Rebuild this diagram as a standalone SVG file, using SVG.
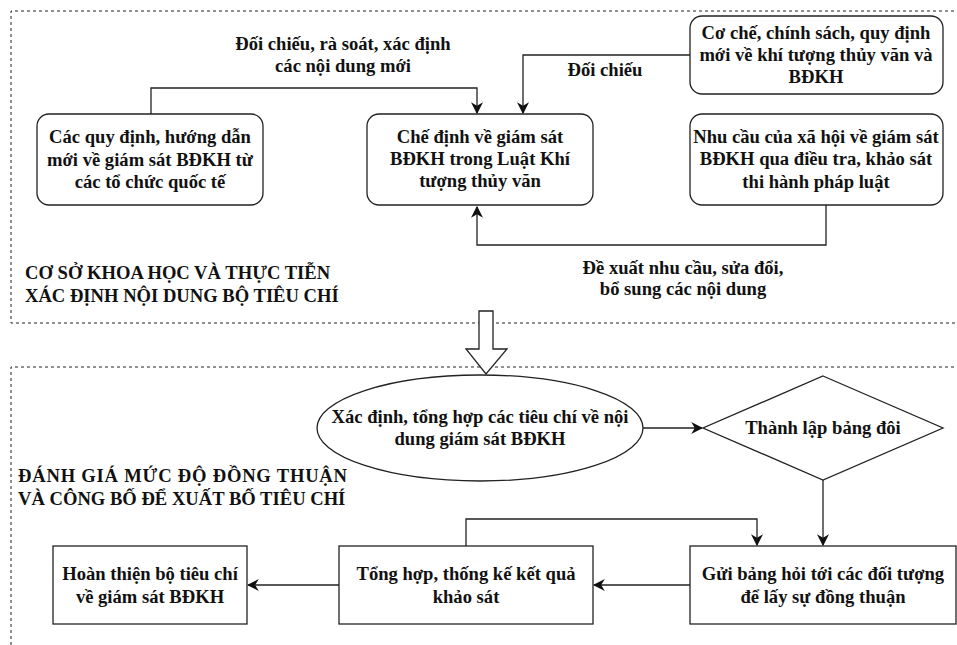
<svg xmlns="http://www.w3.org/2000/svg" width="957" height="645" viewBox="0 0 957 645">
<style>
text{font-family:"Liberation Serif","Times New Roman",serif;font-weight:bold;font-size:18.6px;fill:#111;}
.c{text-anchor:middle;}
.box{fill:#fff;stroke:#222;stroke-width:1.3;}
.edge{fill:none;stroke:#222;stroke-width:1.3;}
.dash{fill:none;stroke:#222;stroke-width:1;stroke-dasharray:3 3;}
</style>
<defs>
<marker id="arr" markerUnits="userSpaceOnUse" markerWidth="12" markerHeight="12" viewBox="0 0 10 10" refX="9" refY="5" orient="auto">
<path d="M0,0 L10,5 L0,10 L3,5 z" fill="#111"/>
</marker>
</defs>
<rect width="957" height="645" fill="#fff"/>
<g id="frames">
<path class="dash" d="M960,11 H11 V323 H960"/>
<path class="dash" d="M960,367 H11 V650"/>
<text x="25" y="279">CƠ SỞ KHOA HỌC VÀ THỰC TIỄN</text>
<text x="25" y="302">XÁC ĐỊNH NỘI DUNG BỘ TIÊU CHÍ</text>
<text x="18" y="482" textLength="329" lengthAdjust="spacing">ĐÁNH GIÁ MỨC ĐỘ ĐỒNG THUẬN</text>
<text x="18" y="505">VÀ CÔNG BỐ ĐỂ XUẤT BỐ TIÊU CHÍ</text>
</g>
<g id="connectors">
<path class="edge" d="M151,114 V88 H477 V113" marker-end="url(#arr)"/>
<path class="edge" d="M690,55 H523 V113" marker-end="url(#arr)"/>
<path class="edge" d="M826,205 V245 H477 V207" marker-end="url(#arr)"/>
<path class="edge" d="M643,428 H702" marker-end="url(#arr)"/>
<path class="edge" d="M823,480 V545" marker-end="url(#arr)"/>
<path class="edge" d="M466,546 V519 H757 V545" marker-end="url(#arr)"/>
<path class="edge" d="M690,585 H594" marker-end="url(#arr)"/>
<path class="edge" d="M339,585 H248" marker-end="url(#arr)"/>
<polygon points="479,311 493,311 493,349 507,349 486,374 466,349 479,349" fill="#fff" stroke="#222" stroke-width="1.3"/>
<text class="c" x="343" y="50">Đối chiếu, rà soát, xác định</text>
<text class="c" x="343" y="72">các nội dung mới</text>
<text class="c" x="605" y="76">Đối chiếu</text>
<text class="c" x="683" y="274">Đề xuất nhu cầu, sửa đổi,</text>
<text class="c" x="683" y="295">bổ sung các nội dung</text>
</g>
<g id="n-quydinh">
<rect class="box" x="37" y="114" width="226" height="91" rx="12"/>
<text class="c" x="150" y="143">Các quy định, hướng dẫn</text>
<text class="c" x="150" y="166">mới về giám sát BĐKH từ</text>
<text class="c" x="150" y="188">các tổ chức quốc tế</text>
</g>
<g id="n-chedinh">
<rect class="box" x="367" y="114" width="226" height="91" rx="12"/>
<text class="c" x="480" y="143">Chế định về giám sát</text>
<text class="c" x="480" y="165">BĐKH trong Luật Khí</text>
<text class="c" x="480" y="187">tượng thủy văn</text>
</g>
<g id="n-coche">
<rect class="box" x="690" y="16" width="253" height="78" rx="12"/>
<text class="c" x="816" y="39">Cơ chế, chính sách, quy định</text>
<text class="c" x="816" y="61">mới về khí tượng thủy văn và</text>
<text class="c" x="816" y="83">BĐKH</text>
</g>
<g id="n-nhucau">
<rect class="box" x="690" y="114" width="253" height="91" rx="12"/>
<text class="c" x="816" y="143">Nhu cầu của xã hội về giám sát</text>
<text class="c" x="816" y="165">BĐKH qua điều tra, khảo sát</text>
<text class="c" x="816" y="188">thi hành pháp luật</text>
</g>
<g id="n-xacdinh">
<ellipse class="box" cx="480" cy="428" rx="163" ry="53"/>
<text class="c" x="480" y="423">Xác định, tổng hợp các tiêu chí về nội</text>
<text class="c" x="480" y="445">dung giám sát BĐKH</text>
</g>
<g id="n-thanhlap">
<polygon class="box" points="823,376 943,428 823,480 703,428"/>
<text class="c" x="823" y="434">Thành lập bảng đôi</text>
</g>
<g id="n-gui">
<rect class="box" x="690" y="546" width="266" height="78"/>
<text class="c" x="823" y="580">Gửi bảng hỏi tới các đối tượng</text>
<text class="c" x="823" y="603">để lấy sự đồng thuận</text>
</g>
<g id="n-tonghop">
<rect class="box" x="339" y="546" width="254" height="78"/>
<text class="c" x="466" y="580">Tổng hợp, thống kế kết quả</text>
<text class="c" x="466" y="603">khảo sát</text>
</g>
<g id="n-hoanthien">
<rect class="box" x="53" y="546" width="194" height="78"/>
<text class="c" x="150" y="580">Hoàn thiện bộ tiêu chí</text>
<text class="c" x="150" y="603">về giám sát BĐKH</text>
</g>
</svg>
